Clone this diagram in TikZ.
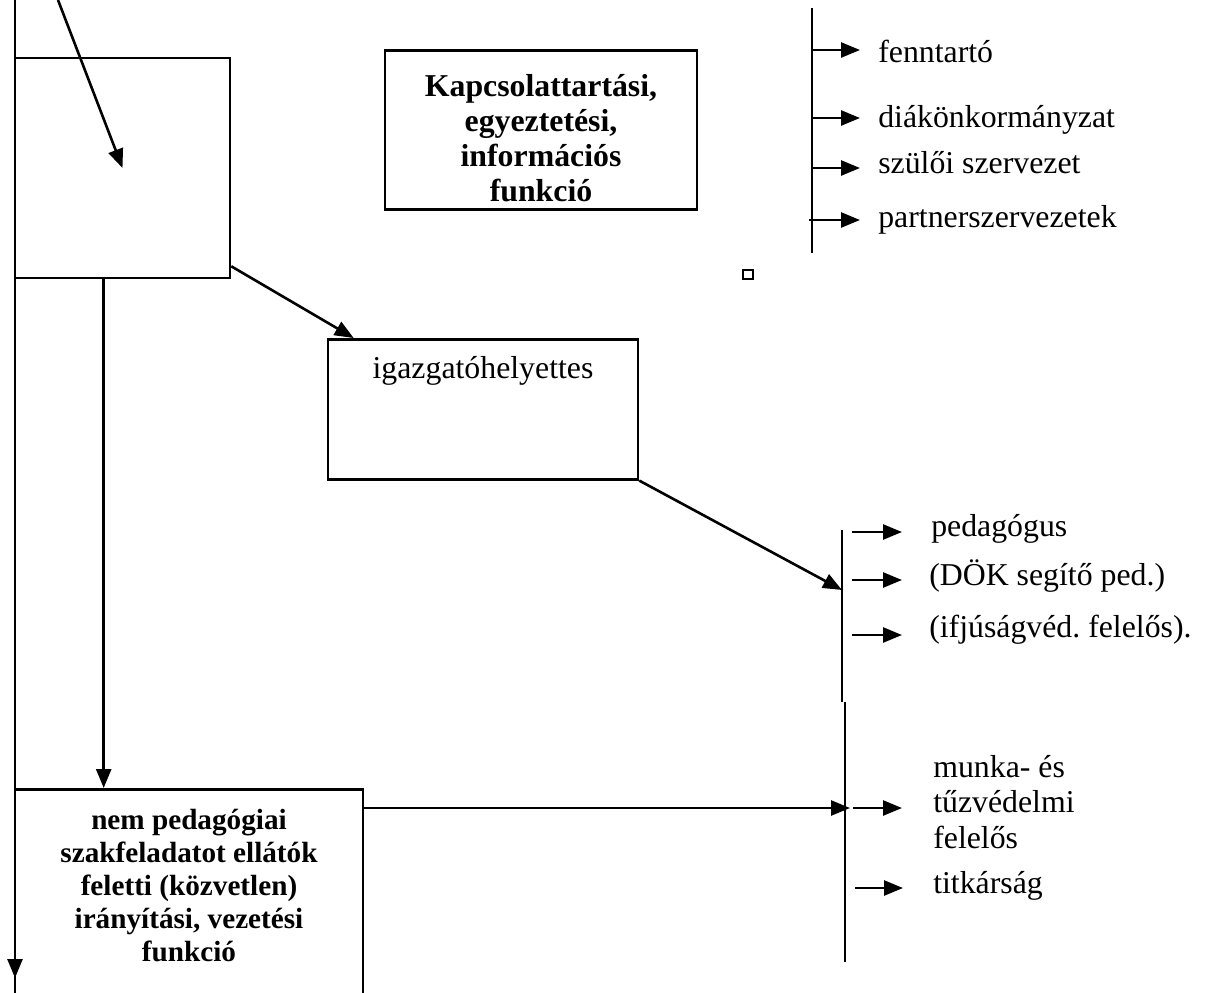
\documentclass[tikz,border=0pt]{standalone}
\usepackage{fontspec}
\setmainfont{Liberation Serif}
\usetikzlibrary{arrows.meta}
\frenchspacing
\begin{document}
\begin{tikzpicture}[x=1pt,y=-1pt,line width=2.6pt,
  arr/.style={-{Triangle[length=19pt,width=15pt]}},
  frame/.style={draw,inner sep=0pt},
  lbl/.style={font=\fontsize{31.8pt}{35.5pt}\selectfont\frenchspacing,inner sep=0pt,anchor=base west},
  boldtxt/.style={font=\bfseries\fontsize{31.8pt}{35pt}\selectfont},
  boldsmall/.style={font=\bfseries\fontsize{29.2pt}{33pt}\selectfont}]
\useasboundingbox (0,0) rectangle (1205,993);

% left main line with arrow
\coordinate (ltop) at (15,0);
\coordinate (ltip) at (15,978);
\coordinate (lbot) at (15,993);
\draw (ltop) -- (lbot);
\draw[arr] (ltop) -- (ltip);

% top-left box
\node[frame,minimum width=215pt,minimum height=220pt] (tl) at (122.5,168) {};
\coordinate (dstart) at (58,0);
\draw[arr] (dstart) -- (tl.center);

% Kapcsolattartasi box
\node[frame,boldtxt,anchor=north,minimum width=312pt,text height=46pt,text depth=113pt] (kap) at (541,49)
  {\begin{tabular}[t]{@{}c@{}}Kapcsolattartási,\\ egyeztetési,\\ információs\\ funkció\end{tabular}};

% small square
\node[draw,minimum size=9.5pt,inner sep=0pt,line width=2pt] (sq) at (748,274.5) {};

% top right list
\coordinate (v1t) at (812,8);
\coordinate (v1b) at (812,253);
\draw (v1t) -- (v1b);
\node[lbl] (f1) at (877,62) {fenntartó};
\node[lbl] (f2) at (877,127) {diákönkormányzat};
\node[lbl] (f3) at (877,173) {szülői szervezet};
\node[lbl] (f4) at (877,227) {partnerszervezetek};
\coordinate (c1) at (812,50);
\coordinate (c2) at (812,118);
\coordinate (c3) at (812,168);
\coordinate (c4) at (809,220);
\draw[arr,shorten >=17pt] (c1) -- (c1 -| f1.west);
\draw[arr,shorten >=17pt] (c2) -- (c2 -| f2.west);
\draw[arr,shorten >=17pt] (c3) -- (c3 -| f3.west);
\draw[arr,shorten >=17pt] (c4) -- (c4 -| f4.west);

% igazgatohelyettes box
\node[frame,fill=white,anchor=north,minimum width=310pt,text height=39pt,text depth=101pt,
  font=\fontsize{31.8pt}{35.5pt}\selectfont] (ig) at (483,338) {igazgatóhelyettes};
\draw[arr] ([yshift=13pt]tl.south east) -- ([xshift=27pt]ig.north west);

% right middle vertical lines
\coordinate (r1t) at (842,530);
\coordinate (r1b) at (842,702);
\coordinate (r2t) at (845,702);
\coordinate (r2b) at (845,962);
\draw (r1t) -- (r1b);
\draw (r2t) -- (r2b);
\coordinate (r1hit) at (842,590);
\draw[arr] (ig.south east) -- (r1hit);

\node[lbl] (p1) at (930,536) {pedagógus};
\node[lbl] (p2) at (928,585) {(DÖK segítő ped.)};
\node[lbl] (p3) at (928,637) {(ifjúságvéd. felelős).};
\coordinate (m1) at (852,532);
\coordinate (m2) at (852,580);
\coordinate (m3) at (852,635);
\draw[arr,shorten >=28pt] (m1) -- (m1 -| p1.west);
\draw[arr,shorten >=26pt] (m2) -- (m2 -| p2.west);
\draw[arr,shorten >=26pt] (m3) -- (m3 -| p3.west);

\node[lbl,anchor=base west] (mu) at (932,777)
  {\begin{tabular}[t]{@{}l@{}}munka- és\\ tűzvédelmi\\ felelős\end{tabular}};
\node[lbl] (ti) at (932,893) {titkárság};
\coordinate (m4) at (853,808);
\coordinate (m5) at (855,888);
\draw[arr,shorten >=30pt] (m4) -- (m4 -| mu.west);
\draw[arr,shorten >=29pt] (m5) -- (m5 -| ti.west);

% bottom box
\node[frame,boldsmall,anchor=north,minimum width=348pt,text height=40pt,text depth=172pt] (nb) at (189,788)
  {\begin{tabular}[t]{@{}c@{}}nem pedagógiai\\ szakfeladatot ellátók\\ feletti (közvetlen)\\ irányítási, vezetési\\ funkció\end{tabular}};
\draw[arr] ([xshift=90pt]tl.south west) -- ([xshift=90pt]nb.north west);
\coordinate (r2hit) at (850,808);
\draw[arr] ([yshift=-20pt]nb.north east) -- (r2hit);
\end{tikzpicture}
\end{document}
